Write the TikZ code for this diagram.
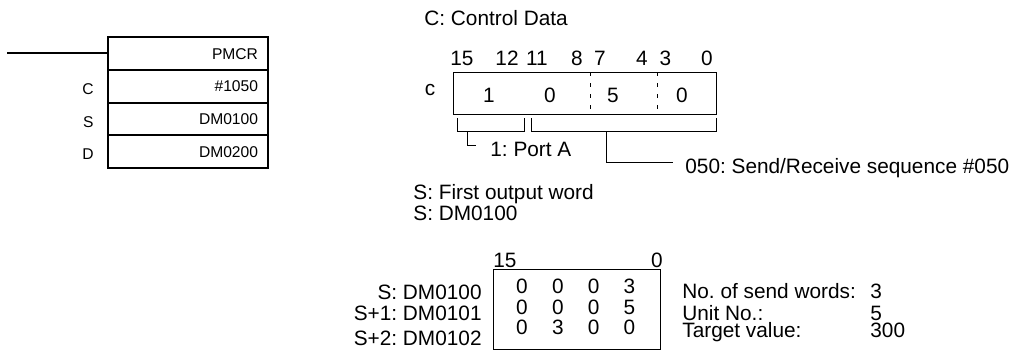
\documentclass[tikz,border=0pt]{standalone}
\usepackage{fontspec}
\setmainfont{Liberation Sans}
\usetikzlibrary{positioning}
\frenchspacing

\begin{document}
\begin{tikzpicture}[
    x=0.5pt, y=-0.5pt,
    txt/.style={inner sep=0pt, font=\fontsize{10.4}{12.5}\selectfont, text height=7.45pt, text depth=0pt},
    ladtxt/.style={inner sep=0pt, font=\fontsize{7.8}{9.4}\selectfont, text height=5.6pt, text depth=0pt},
    ladrow/.style={draw, line width=1pt, minimum width=80pt, minimum height=16.375pt,
                   outer sep=0pt, text width=70pt, align=right, ladtxt},
    box/.style={draw, line width=0.5pt, inner sep=0pt, outer sep=0pt},
    line/.style={line width=0.5pt},
    divider/.style={line width=0.5pt, dash pattern=on 2pt off 3.5pt},
]
\useasboundingbox (0,0) rectangle (1019,354);

% ladder instruction
\node[ladrow] (pmcr) at (188,53.4) {PMCR};
\node[ladrow, below=0pt of pmcr] (rowc) {\#1050};
\node[ladrow, below=0pt of rowc] (rows) {DM0100};
\node[ladrow, below=0pt of rows] (rowd) {DM0200};
\node[ladtxt, left=7pt of rowc.west, yshift=-1.5pt] (labc) {C};
\node[ladtxt, left=7pt of rows.west, yshift=-1.5pt] (labs) {S};
\node[ladtxt, left=7pt of rowd.west, yshift=-1pt] (labd) {D};
\coordinate (rung) at (7,53.4);
\draw[line width=1pt] (rung) -- (pmcr.west);

% control data word
\node[txt, anchor=west] (ctitle) at (424,18) {C: Control Data};
\foreach \b/\x in {15/462,12/507,11/537,8/577,7/600,4/642,3/665.5,0/707}
    \node[txt] (bit\b) at (\x,58) {\b};
\node[box, minimum width=131.5pt, minimum height=21pt] (cbox) at (584.5,93) {};
\node[txt] (clab) at (430,88) {c};
\foreach \v/\x [count=\i] in {1/488.8,0/550,5/613,0/682}
    \node[txt] (cval\i) at (\x,95) {\v};
\draw[divider] (590,0 |- cbox.north) -- (590,0 |- cbox.south);
\draw[divider] (657,0 |- cbox.north) -- (657,0 |- cbox.south);

\coordinate (bra) at (457,118);
\coordinate (brb) at (524,118);
\coordinate (brc) at (531,118);
\coordinate (brd) at (716,118);
\draw[line] (bra) -- ++(0,13) -| (brb);
\draw[line] (brc) -- ++(0,13) -| (brd);
\coordinate (lead1) at (467,131);
\coordinate (lead2) at (606,131);
\node[txt, anchor=west] (port) at (490,149) {1: Port A};
\node[txt, anchor=west] (seq) at (685,166) {050: Send/Receive sequence \#050};
\draw[line] (lead1) |- ([xshift=-7pt, yshift=2pt]port.west);
\draw[line] (lead2) |- ([xshift=-6pt, yshift=2pt]seq.west);

% first output word
\node[txt, anchor=west] (stitle) at (413,192.5) {S: First output word};
\node[txt, anchor=west] (sword) at (413,213.5) {S: DM0100};

\node[txt] (top15) at (505,260) {15};
\node[txt] (top0) at (657,260) {0};
\node[box, minimum width=83.5pt, minimum height=40pt] (sbox) at (576.5,309) {};
\foreach \a/\b/\c/\d/\y [count=\r] in {0/0/0/3/286.3, 0/0/0/5/306.7, 0/3/0/0/327.3} {
    \node[txt] (s\r a) at (522,\y) {\a};
    \node[txt] (s\r b) at (557.8,\y) {\b};
    \node[txt] (s\r c) at (593.7,\y) {\c};
    \node[txt] (s\r d) at (629.5,\y) {\d};
}
\node[txt, anchor=east] (sreg0) at (482,292) {S: DM0100};
\node[txt, anchor=east] (sreg1) at (482,313) {S+1: DM0101};
\node[txt, anchor=east] (sreg2) at (482,338) {S+2: DM0102};

\node[txt, anchor=west] (nwords) at (682,291.5) {No. of send words:};
\node[txt, anchor=west] (unitno) at (682,312.8) {Unit No.:};
\node[txt, anchor=west] (target) at (682,330.5) {Target value:};
\node[txt, anchor=west] (nwordsv) at (870,291.5) {3};
\node[txt, anchor=west] (unitnov) at (870,312.8) {5};
\node[txt, anchor=west] (targetv) at (870,330.5) {300};
\end{tikzpicture}
\end{document}
